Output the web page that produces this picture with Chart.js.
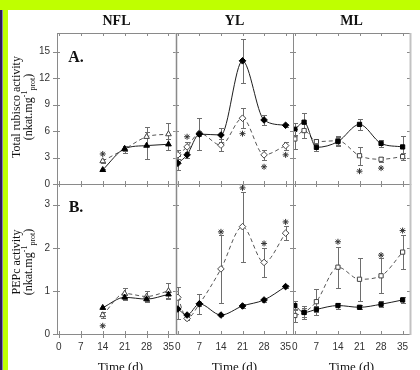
<!DOCTYPE html>
<html><head><meta charset="utf-8">
<script src="https://cdn.jsdelivr.net/npm/chart.js@4/dist/chart.umd.min.js"></script>
<style>
html,body{margin:0;padding:0;background:#fff;}
#fig{position:relative;width:420px;height:370px;overflow:hidden;background:#fff;font-family:'Liberation Serif','Times New Roman',serif;color:#111;}
#fig canvas{position:absolute;left:0;top:0;}
.t{position:absolute;white-space:nowrap;transform:translate(-50%,-50%);line-height:1;}
.b{font-weight:bold;}
.rot{transform:translate(-50%,-50%) rotate(-90deg);}
sup,sub{font-size:8px;line-height:0;}
</style></head>
<body>
<div id="fig">
  <div style="position:absolute;left:0;top:0;width:420px;height:10px;background:#bfff00;"></div>
  <div style="position:absolute;left:0;top:10px;width:2px;height:360px;background:#2e1a5c;"></div>
  <div style="position:absolute;left:2px;top:10px;width:1px;height:360px;background:#8a80b0;"></div>
  <div style="position:absolute;left:3px;top:10px;width:5px;height:360px;background:#bfff00;"></div>
</div>
<script>
// ---------- data ----------
const columns = ['NFL', 'YL', 'ML'];
const xTicks = [0, 7, 14, 21, 28, 35];
const rubiscoTicks = [0, 3, 6, 9, 12, 15];
const pepcTicks = [0, 1, 2, 3];

const daysNFL = [14, 21, 28, 35];
const daysYL = [0, 3, 7, 14, 21, 28, 35];
const daysML = [0, 3, 7, 14, 21, 28, 35];

// A. Total rubisco activity
const rubNFLfilled = [1.6, 4.0, 4.35, 4.5];
const rubNFLfilledErr = [0.15, 0.3, 1.5, 0.6];
const rubNFLopen = [2.6, 3.95, 5.35, 5.65];
const rubNFLopenErr = [0.2, 0.4, 1.05, 1.25];
const rubNFLstarDays = [14];
const rubNFLstarVals = [3.4];

const rubYLfilled = [2.35, 3.3, 5.65, 5.55, 13.95, 7.25, 6.65];
const rubYLfilledErr = [0.8, 0.3, 1.8, 0.75, 2.5, 0.55, 0.2];
const rubYLopen = [3.3, 4.2, 5.75, 4.4, 7.45, 3.3, 4.35];
const rubYLopenErr = [0.5, 0.55, 0.3, 0.65, 1.15, 0.55, 0.45];
const rubYLstarDays = [3, 21, 28, 35];
const rubYLstarVals = [5.35, 5.7, 1.95, 3.3];

const rubMLfilled = [6.2, 7.0, 4.15, 4.8, 6.75, 4.6, 4.2];
const rubMLfilledErr = [0.7, 1.0, 0.4, 0.5, 0.6, 0.4, 1.2];
const rubMLopen = [5.1, 6.05, 4.8, 4.9, 3.2, 2.8, 3.1];
const rubMLopenErr = [1.1, 0.85, 0.3, 0.5, 1.0, 0.3, 0.4];
const rubMLstarDays = [21, 28];
const rubMLstarVals = [1.45, 1.8];

// B. PEPc activity
const pepNFLfilled = [0.61, 0.85, 0.81, 0.92];
const pepNFLfilledErr = [0.03, 0.05, 0.05, 0.08];
const pepNFLopen = [0.44, 0.94, 0.87, 1.0];
const pepNFLopenErr = [0.08, 0.13, 0.12, 0.18];
const pepNFLstarDays = [14];
const pepNFLstarVals = [0.19];

const pepYLfilled = [0.58, 0.44, 0.70, 0.44, 0.65, 0.79, 1.1];
const pepYLfilledErr = [0.24, 0.03, 0.05, 0.03, 0.05, 0.04, 0.03];
const pepYLopen = [0.85, 0.36, 0.70, 1.51, 2.49, 1.66, 2.34];
const pepYLopenErr = [0.24, 0.03, 0.23, 0.78, 0.81, 0.33, 0.17];
const pepYLstarDays = [14, 21, 28, 35];
const pepYLstarVals = [2.37, 3.39, 2.1, 2.6];

const pepMLfilled = [0.66, 0.5, 0.57, 0.66, 0.62, 0.69, 0.79];
const pepMLfilledErr = [0.1, 0.1, 0.07, 0.07, 0.05, 0.07, 0.07];
const pepMLopen = [0.43, 0.5, 0.75, 1.55, 1.27, 1.35, 1.9];
const pepMLopenErr = [0.15, 0.15, 0.3, 0.48, 0.5, 0.41, 0.4];
const pepMLstarDays = [14, 28, 35];
const pepMLstarVals = [2.14, 1.83, 2.4];

// ---------- layout ----------
const W = 420, H = 370;
const colRects = [{l: 57, r: 176}, {l: 176, r: 293}, {l: 293, r: 410}];
const rowRects = [{t: 33, b: 184}, {t: 184, b: 334}];
const xRange = [-0.6, 37.4];
const yMaxes = [17.1, 3.48];
const markerStyles = ['triangle', 'rectRot', 'rect'];

const fig = document.getElementById('fig');

const panelPlugin = {
  id: 'panelDeco',
  beforeDatasetsDraw(chart, args, o) {
    const {ctx, scales: {x, y}} = chart;
    ctx.save();
    ctx.strokeStyle = '#6e6e6e';
    ctx.lineWidth = 1;
    chart.data.datasets.forEach(ds => {
      if (!ds.err) return;
      ds.data.forEach((p, i) => {
        const e = ds.err[i];
        if (!e) return;
        const px = Math.round(x.getPixelForValue(p.x)) + 0.5;
        const y1 = Math.round(y.getPixelForValue(p.y + e)) + 0.5;
        const y2 = Math.round(y.getPixelForValue(Math.max(0, p.y - e))) + 0.5;
        ctx.beginPath();
        ctx.moveTo(px, y1); ctx.lineTo(px, y2);
        ctx.moveTo(px - 2.5, y1); ctx.lineTo(px + 2.5, y1);
        ctx.moveTo(px - 2.5, y2); ctx.lineTo(px + 2.5, y2);
        ctx.stroke();
      });
    });
    ctx.restore();
  },
  afterDraw(chart, args, o) {
    const {ctx, chartArea: a, scales: {x, y}} = chart;
    ctx.save();
    ctx.strokeStyle = '#8a8a8a';
    ctx.lineWidth = 1;
    ctx.strokeRect(a.left + 0.5, a.top + 0.5, a.right - a.left, a.bottom - a.top);
    ctx.beginPath();
    x.ticks.forEach(t => {
      const px = Math.round(x.getPixelForValue(t.value)) + 0.5;
      ctx.moveTo(px, a.bottom - 3); ctx.lineTo(px, a.bottom + (o.outX ? 4 : 0));
      ctx.moveTo(px, a.top); ctx.lineTo(px, a.top + 3);
    });
    y.ticks.forEach(t => {
      const py = Math.round(y.getPixelForValue(t.value)) + 0.5;
      ctx.moveTo(a.left - (o.outY ? 4 : 0), py); ctx.lineTo(a.left + 3, py);
      ctx.moveTo(a.right - 3, py); ctx.lineTo(a.right, py);
    });
    ctx.stroke();
    if (o.thickRight) {
      ctx.strokeStyle = '#c2c2c2';
      ctx.lineWidth = 2;
      ctx.beginPath();
      ctx.moveTo(a.right + 0.5, a.top); ctx.lineTo(a.right + 0.5, a.bottom + 1);
      ctx.stroke();
    }
    ctx.restore();
  }
};

function makePanel(row, col, days, filled, filledErr, open, openErr, starDays, starVals, yTicks) {
  const cv = document.createElement('canvas');
  cv.width = W; cv.height = H;
  cv.style.width = W + 'px'; cv.style.height = H + 'px';
  fig.appendChild(cv);
  const cr = colRects[col], rr = rowRects[row];
  const style = markerStyles[col];
  const showX = row === 1, showY = col === 0;
  const xAxisH = showX ? H - rr.b : 0;
  const yAxisW = showY ? cr.l : 0;
  new Chart(cv.getContext('2d'), {
    type: 'line',
    data: {
      datasets: [
        {
          data: days.map((d, i) => ({x: d, y: filled[i]})),
          err: filledErr,
          borderColor: '#1e1e1e', borderWidth: 1, cubicInterpolationMode: 'monotone',
          pointStyle: style, pointRadius: style === 'rect' ? 3 : 3.3,
          pointBackgroundColor: '#000', pointBorderColor: '#000', pointBorderWidth: 1
        },
        {
          data: days.map((d, i) => ({x: d, y: open[i]})),
          err: openErr,
          borderColor: '#555', borderWidth: 1, borderDash: [4, 3], cubicInterpolationMode: 'monotone',
          pointStyle: style, pointRadius: style === 'rect' ? 3 : 3.3,
          pointBackgroundColor: '#fff', pointBorderColor: '#444', pointBorderWidth: 1
        },
        {
          data: starDays.map((d, i) => ({x: d, y: starVals[i]})),
          showLine: false, pointStyle: 'star', pointRadius: 3,
          pointBorderColor: '#333', pointBackgroundColor: '#333', pointBorderWidth: 1
        }
      ]
    },
    options: {
      responsive: false, animation: false, devicePixelRatio: 1,
      layout: {padding: {left: cr.l - yAxisW, right: W - cr.r, top: rr.t, bottom: H - rr.b - xAxisH}},
      plugins: {legend: {display: false}, tooltip: {enabled: false},
        panelDeco: {outX: showX && col === 0, outY: showY, thickRight: col !== 1}},
      scales: {
        x: {
          type: 'linear', min: xRange[0], max: xRange[1],
          afterBuildTicks: s => { s.ticks = xTicks.map(v => ({value: v})); },
          afterFit: s => { s.height = xAxisH; },
          grid: {display: false, drawTicks: false}, border: {display: false},
          ticks: {display: showX, padding: 7, maxRotation: 0, minRotation: 0, autoSkip: false,
            font: {family: "'Liberation Sans', Arial, sans-serif", size: 10}, color: '#333'}
        },
        y: {
          type: 'linear', min: 0, max: yMaxes[row],
          afterBuildTicks: s => { s.ticks = yTicks.map(v => ({value: v})); },
          afterFit: s => { s.width = yAxisW; },
          grid: {display: false, drawTicks: false}, border: {display: false},
          ticks: {display: showY, padding: 7, autoSkip: false,
            font: {family: "'Liberation Sans', Arial, sans-serif", size: 10}, color: '#333'}
        }
      }
    },
    plugins: [panelPlugin]
  });
}

makePanel(0, 0, daysNFL, rubNFLfilled, rubNFLfilledErr, rubNFLopen, rubNFLopenErr, rubNFLstarDays, rubNFLstarVals, rubiscoTicks);
makePanel(0, 1, daysYL, rubYLfilled, rubYLfilledErr, rubYLopen, rubYLopenErr, rubYLstarDays, rubYLstarVals, rubiscoTicks);
makePanel(0, 2, daysML, rubMLfilled, rubMLfilledErr, rubMLopen, rubMLopenErr, rubMLstarDays, rubMLstarVals, rubiscoTicks);
makePanel(1, 0, daysNFL, pepNFLfilled, pepNFLfilledErr, pepNFLopen, pepNFLopenErr, pepNFLstarDays, pepNFLstarVals, pepcTicks);
makePanel(1, 1, daysYL, pepYLfilled, pepYLfilledErr, pepYLopen, pepYLopenErr, pepYLstarDays, pepYLstarVals, pepcTicks);
makePanel(1, 2, daysML, pepMLfilled, pepMLfilledErr, pepMLopen, pepMLopenErr, pepMLstarDays, pepMLstarVals, pepcTicks);

// ---------- text ----------
function addText(html, x, y, css, cls) {
  const d = document.createElement('div');
  d.className = 't ' + (cls || '');
  d.innerHTML = html;
  d.style.left = x + 'px'; d.style.top = y + 'px';
  d.style.cssText += css;
  fig.appendChild(d);
}
columns.forEach((c, i) => {
  const cx = (colRects[i].l + colRects[i].r) / 2;
  addText(c, cx, 21, 'font-size:14px;', 'b');
  addText('Time (d)', cx + (i === 0 ? 4 : 0), 366, 'font-size:13px;');
});
addText('A.', 76, 57, 'font-size:16px;', 'b');
addText('B.', 76, 207, 'font-size:16px;', 'b');
addText('Total rubisco activity', 16, 107, 'font-size:12px;', 'rot');
addText('(nkat.mg<sup>-1</sup><sub>prot</sub>)', 28, 107, 'font-size:12px;', 'rot');
addText('PEPc activity', 16, 262, 'font-size:12px;', 'rot');
addText('(nkat.mg<sup>-1</sup><sub>prot</sub>)', 28, 262, 'font-size:12px;', 'rot');
</script>
</body></html>
